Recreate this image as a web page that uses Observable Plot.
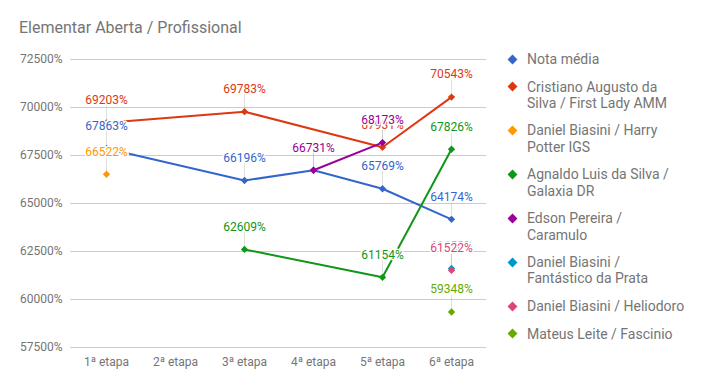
<!DOCTYPE html>
<html>
<head>
<meta charset="utf-8">
<script src="https://cdn.jsdelivr.net/npm/d3@7"></script>
<script src="https://cdn.jsdelivr.net/npm/@observablehq/plot@0.6"></script>
<style>
  html, body { margin: 0; padding: 0; background: #fff; }
  #wrap { position: relative; width: 705px; height: 388px; font-family: Roboto, sans-serif; }
  #title { position: absolute; left: 19px; top: 20px; font-size: 16px; line-height: 16px; color: #757575; white-space: nowrap; }
  #chart { position: absolute; left: 0; top: 0; }
  #legend { position: absolute; left: 505px; top: 51px; font-size: 14px; line-height: 16.3px; color: #757575; }
  .item { position: relative; padding-left: 22px; margin-bottom: 11.3px; white-space: nowrap; }
  .sw { position: absolute; left: 4px; top: 4.6px; width: 7px; height: 7px; transform: rotate(45deg); }
</style>
</head>
<body>
<div id="wrap">
  <div id="chart"></div>
  <div id="title">Elementar Aberta / Profissional</div>
  <div id="legend"></div>
</div>
<script>
// Categories
const stages = ["1ª etapa", "2ª etapa", "3ª etapa", "4ª etapa", "5ª etapa", "6ª etapa"];

// Series names (legend labels, with line breaks as in the reference)
const seriesNames = [
  "Nota média",
  "Cristiano Augusto da Silva / First Lady AMM",
  "Daniel Biasini / Harry Potter IGS",
  "Agnaldo Luis da Silva / Galaxia DR",
  "Edson Pereira / Caramulo",
  "Daniel Biasini / Fantástico da Prata",
  "Daniel Biasini / Heliodoro",
  "Mateus Leite / Fascinio"
];
const legendLabels = [
  "Nota média",
  "Cristiano Augusto da<br>Silva / First Lady AMM",
  "Daniel Biasini / Harry<br>Potter IGS",
  "Agnaldo Luis da Silva /<br>Galaxia DR",
  "Edson Pereira /<br>Caramulo",
  "Daniel Biasini /<br>Fantástico da Prata",
  "Daniel Biasini / Heliodoro",
  "Mateus Leite / Fascinio"
];
const seriesColors = ["#3366cc", "#dc3912", "#ff9900", "#109618", "#990099", "#0099c6", "#dd4477", "#66aa00"];

// Series values per stage (null = no value)
const notaMedia      = [67863, null, 66196, 66731, 65769, 64174];
const cristiano      = [69203, null, 69783, null, 67931, 70543];
const harryPotter    = [66522, null, null, null, null, null];
const agnaldo        = [null, null, 62609, null, 61154, 67826];
const edson          = [null, null, null, 66731, 68173, null];
const fantastico     = [null, null, null, null, null, 61620];
const heliodoro      = [null, null, null, null, null, 61522];
const mateus         = [null, null, null, null, null, 59348];

// Y axis ticks
const yTicks = [57500, 60000, 62500, 65000, 67500, 70000, 72500];

const allSeries = [notaMedia, cristiano, harryPotter, agnaldo, edson, fantastico, heliodoro, mateus];
const points = [];
allSeries.forEach((vals, si) => {
  vals.forEach((v, i) => {
    if (v != null) points.push({series: seriesNames[si], stage: stages[i], value: v});
  });
});

const stem = { draw(context, l) { context.moveTo(0, 0); context.lineTo(0, -l); } };

const chart = Plot.plot({
  width: 705,
  height: 388,
  marginLeft: 70,
  marginRight: 219,
  marginTop: 59,
  marginBottom: 41,
  style: { fontFamily: "Roboto, sans-serif", fontSize: "12px", color: "#757575", background: "transparent" },
  x: { type: "point", domain: stages, padding: 0.5, label: null, tickSize: 0, tickPadding: 10 },
  y: { domain: [57500, 72500], ticks: yTicks, tickFormat: d => d + "%", label: null, tickSize: 0, tickPadding: 8 },
  color: { domain: seriesNames, range: seriesColors },
  marks: [
    Plot.gridY(yTicks, { stroke: "#cccccc", strokeOpacity: 1 }),
    Plot.line(points, { x: "stage", y: "value", z: "series", stroke: "series", strokeWidth: 2 }),
    Plot.vector(points, { x: "stage", y: "value", length: 17, rotate: 0, anchor: "start", shape: stem, stroke: "#999", strokeOpacity: 0.3, strokeWidth: 1 }),
    Plot.dot(points, { x: "stage", y: "value", fill: "series", symbol: "diamond2", r: 3.3 }),
    Plot.text(points, { x: "stage", y: "value", text: d => d.value + "%", fill: "series", dy: -22.5, fontSize: 12, stroke: "white", strokeWidth: 3 })
  ]
});
document.getElementById("chart").appendChild(chart);

const legend = document.getElementById("legend");
seriesNames.forEach((s, i) => {
  const div = document.createElement("div");
  div.className = "item";
  div.innerHTML = `<span class="sw" style="background:${seriesColors[i]}"></span>${legendLabels[i]}`;
  legend.appendChild(div);
});
</script>
</body>
</html>
